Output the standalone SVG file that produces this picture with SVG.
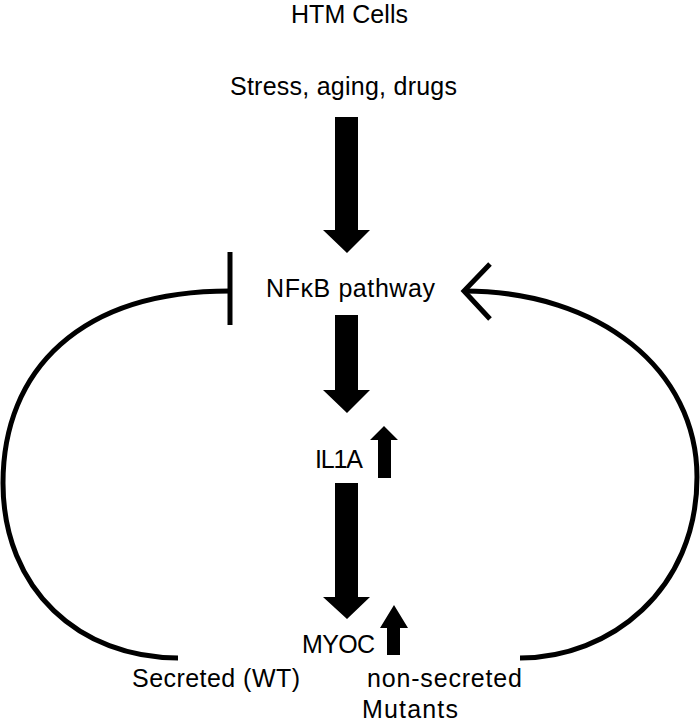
<svg xmlns="http://www.w3.org/2000/svg" width="700" height="723" viewBox="0 0 700 723">
<style>
text{font-family:"Liberation Sans",Arial,sans-serif;font-size:25px;fill:#000}
.curve{fill:none;stroke:#000;stroke-width:5}
.bar{stroke:#000;stroke-width:5;fill:none}
.arr{fill:#000}
</style>
<rect width="700" height="723" fill="#fff"/>
<g id="title"><text x="291" y="23" font-size="24" textLength="117">HTM Cells</text></g>
<g id="stress"><text x="230" y="95" textLength="227">Stress, aging, drugs</text></g>
<g id="nfkb"><text x="266" y="297" textLength="169">NFκB pathway</text></g>
<g id="il1a"><text x="315" y="468" textLength="48">IL1A</text>
<polygon class="arr" points="378,478 391,478 391,440 398,440 384,426 370,440 378,440"/></g>
<g id="myoc"><text x="302" y="653" textLength="73">MYOC</text>
<polygon class="arr" points="387,655 400,655 400,628 408,628 394,605 380,628 387,628"/></g>
<g id="secreted"><text x="132" y="687" textLength="168">Secreted (WT)</text></g>
<g id="nonsecreted"><text x="367" y="687" textLength="155">non-secreted</text>
<text x="362" y="718" textLength="96">Mutants</text></g>
<g id="connectors">
<polygon class="arr" points="335,117 358,117 358,230 370,230 347,253 323,230 335,230"/>
<polygon class="arr" points="335,315 358,315 358,390 370,390 347,413 323,390 335,390"/>
<polygon class="arr" points="335,483 358,483 358,597 370,597 347,619 323,597 335,597"/>
<path class="curve" d="M230,291 C80,291 3,370 3,483 C3,590 80,658 178,658"/>
<line class="bar" x1="230" y1="252" x2="230" y2="325"/>
<path class="curve" d="M464,291 C600,291 697,370 697,477 C697,590 610,658 520,658"/>
<polyline class="bar" points="490,264 464,291 490,319"/>
</g>
</svg>
